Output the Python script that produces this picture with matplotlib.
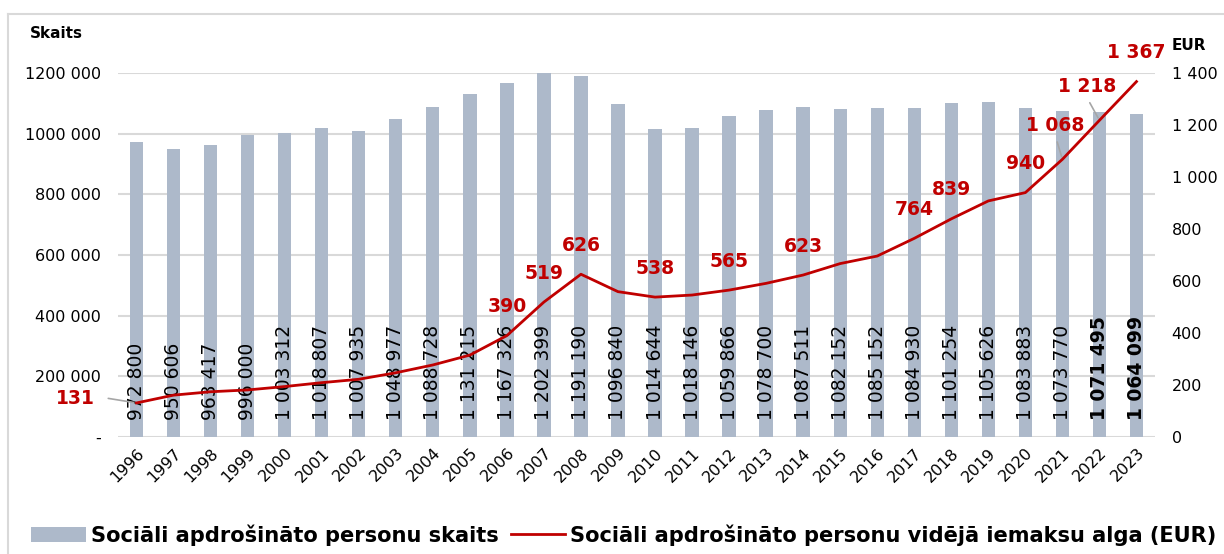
import matplotlib.pyplot as plt
from matplotlib.lines import Line2D

plt.rcParams['font.family'] = ['DejaVu Sans']

years = list(range(1996, 2024))
persons = [972800, 950606, 963417, 996000, 1003312, 1018807, 1007935, 1048977,
           1088728, 1131215, 1167326, 1202399, 1191190, 1096840, 1014644, 1018146,
           1059866, 1078700, 1087511, 1082152, 1085152, 1084930, 1101254, 1105626,
           1083883, 1073770, 1071495, 1064099]
wage = [131, 161, 174, 181, 194, 209, 222, 247, 277, 315, 390, 519, 626, 559,
        538, 546, 565, 591, 623, 667, 696, 764, 839, 908, 940, 1068, 1218, 1367]
labelled_years = [1996, 2006, 2007, 2008, 2010, 2012, 2014, 2017, 2018, 2020, 2021, 2022, 2023]
bold_years = [2022, 2023]

left_ticks = [0, 200000, 400000, 600000, 800000, 1000000, 1200000]
left_labels = ['-', '200 000', '400 000', '600 000', '800 000', '1000 000', '1200 000']
right_ticks = [0, 200, 400, 600, 800, 1000, 1200, 1400]
right_labels = ['0', '200', '400', '600', '800', '1 000', '1 200', '1 400']

bar_color = '#ADB9CA'
red = '#C00000'
grid_c = '#D9D9D9'


def fmt(v):
    return f"{v:,}".replace(',', ' ')


fig = plt.figure(figsize=(12.24, 5.54), dpi=100)
ax = fig.add_axes([118 / 1224, 117 / 554, 1037 / 1224, 364 / 554])
ax2 = ax.twinx()

x = list(range(len(years)))
ax.bar(x, persons, width=0.36, color=bar_color, zorder=2,
       label='Sociāli apdrošināto personu skaits')
ax.set_xlim(-0.5, len(years) - 0.5)
ax.set_ylim(0, 1200000)
ax.set_yticks(left_ticks)
ax.set_yticklabels(left_labels, fontsize=11.5)
ax.grid(axis='y', color=grid_c, linewidth=1.5, zorder=0)
ax.set_axisbelow(True)
ax.set_xticks(x)
ax.set_xticklabels([str(y) for y in years], rotation=45, ha='right',
                   rotation_mode='anchor', fontsize=11.5)
ax.tick_params(axis='both', length=0)
ax.tick_params(axis='x', pad=6)
ax.tick_params(axis='y', pad=12)
for s in ax.spines.values():
    s.set_visible(False)

for i, (yr, v) in enumerate(zip(years, persons)):
    ax.annotate(fmt(v), xy=(i, 0), xytext=(0, 17), textcoords='offset pixels',
                rotation=90, ha='center', va='bottom', fontsize=13.5,
                fontweight='bold' if yr in bold_years else 'normal', zorder=3)

ax2.plot(x, wage, color=red, linewidth=2, zorder=4,
         label='Sociāli apdrošināto personu vidējā iemaksu alga (EUR)')
ax2.set_ylim(0, 1400)
ax2.set_yticks(right_ticks)
ax2.set_yticklabels(right_labels, fontsize=11.5)
ax2.tick_params(axis='y', length=0, pad=12)
for s in ax2.spines.values():
    s.set_visible(False)

# label offsets in pixels from each point
offsets = {1996: (-61, 4), 2021: (-7, 34), 2022: (-12, 34)}
leaders = [1996, 2021, 2022]
for yr in labelled_years:
    i = years.index(yr)
    dx, dy = offsets.get(yr, (0, 29))
    ax2.annotate(fmt(wage[i]), xy=(i, wage[i]), xytext=(dx, dy),
                 textcoords='offset pixels', ha='center', va='center',
                 color=red, fontsize=13.5, fontweight='bold', zorder=5)
    if yr in leaders:
        if yr == 1996:
            ax2.annotate('', xy=(i, wage[i]), xytext=(-31, 5), textcoords='offset pixels',
                         arrowprops=dict(arrowstyle='-', color='#A6A6A6', lw=1.2))
        else:
            ax2.annotate('', xy=(i, wage[i]), xytext=(dx + 1, dy - 14),
                         textcoords='offset pixels',
                         arrowprops=dict(arrowstyle='-', color='#A6A6A6', lw=1.2))

fig.text(30 / 1224, 1 - 33 / 554, 'Skaits', fontsize=11, fontweight='bold', va='center')
fig.text(1172 / 1224, 1 - 45 / 554, 'EUR', fontsize=11, fontweight='bold', va='center')

h1, l1 = ax.get_legend_handles_labels()
h2, l2 = ax2.get_legend_handles_labels()
fig.legend(h1 + h2, l1 + l2, loc='center', bbox_to_anchor=(624 / 1224, 1 - 535 / 554),
           ncol=2, frameon=False, prop={'weight': 'bold', 'size': 15.1},
           handlelength=2.6, handletextpad=0.25, columnspacing=0.55)

# outer chart frame
fig.add_artist(Line2D([8 / 1224, 8 / 1224], [0, 1 - 14 / 554], color=grid_c, lw=1.5))
fig.add_artist(Line2D([8 / 1224, 1], [1 - 14 / 554, 1 - 14 / 554], color=grid_c, lw=1.5))

fig.savefig('out.png', dpi=100)
